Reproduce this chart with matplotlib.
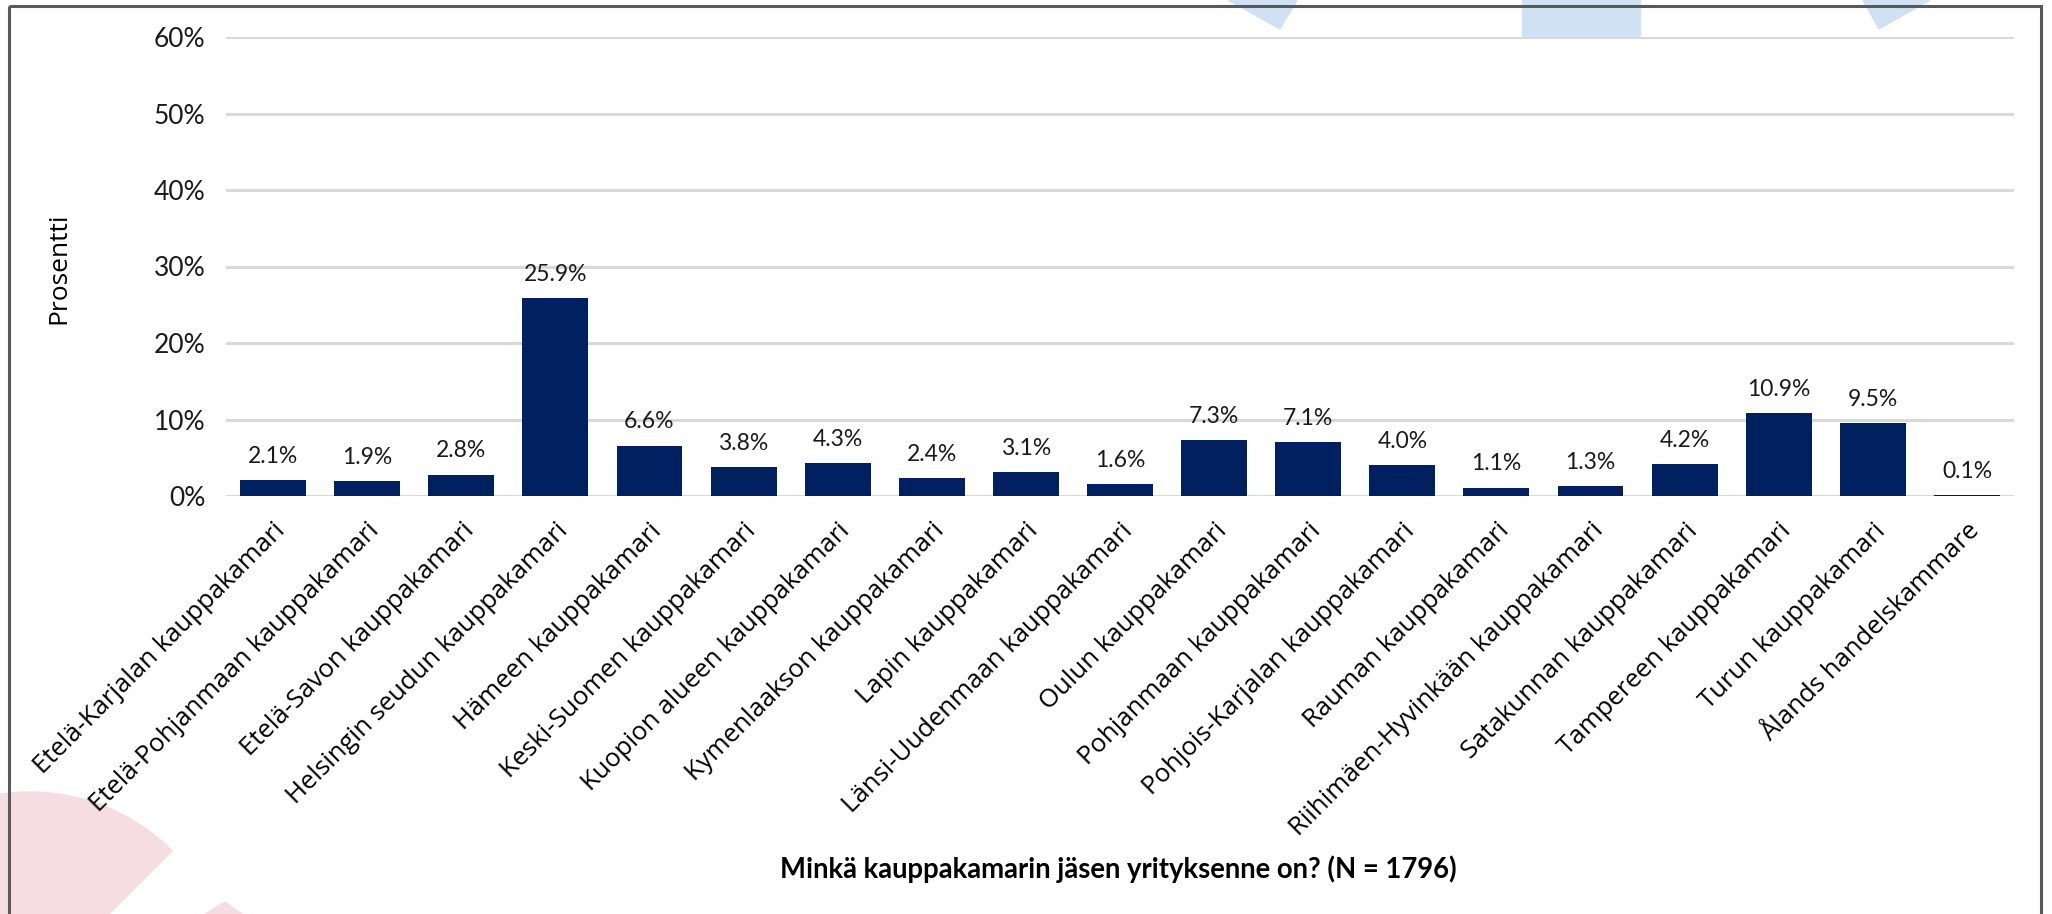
import numpy as np
import matplotlib
matplotlib.use("Agg")
import matplotlib.pyplot as plt
from matplotlib.patches import Rectangle, Polygon, Wedge
from matplotlib.ticker import PercentFormatter

# data
chambers = [
    "Etelä-Karjalan kauppakamari", "Etelä-Pohjanmaan kauppakamari",
    "Etelä-Savon kauppakamari", "Helsingin seudun kauppakamari",
    "Hämeen kauppakamari", "Keski-Suomen kauppakamari",
    "Kuopion alueen kauppakamari", "Kymenlaakson kauppakamari",
    "Lapin kauppakamari", "Länsi-Uudenmaan kauppakamari",
    "Oulun kauppakamari", "Pohjanmaan kauppakamari",
    "Pohjois-Karjalan kauppakamari", "Rauman kauppakamari",
    "Riihimäen-Hyvinkään kauppakamari", "Satakunnan kauppakamari",
    "Tampereen kauppakamari", "Turun kauppakamari", "Ålands handelskammare",
]
share = [2.1, 1.9, 2.8, 25.9, 6.6, 3.8, 4.3, 2.4, 3.1, 1.6,
         7.3, 7.1, 4.0, 1.1, 1.3, 4.2, 10.9, 9.5, 0.1]
yticks = [0, 10, 20, 30, 40, 50, 60]

W, H = 2052, 914
fig = plt.figure(figsize=(W / 100, H / 100), dpi=100)

# background decoration (logo fragments), pixel coordinates
deco = fig.add_axes([0, 0, 1, 1], zorder=-1)
deco.set_xlim(0, W)
deco.set_ylim(H, 0)
deco.axis("off")
blue = "#cfe2f3"
pink = "#f5dde2"
deco.add_patch(Rectangle((1522, 0), 118, 37, color=blue))
deco.add_patch(Polygon([(1228, 0), (1297, 0), (1280, 29)], color=blue))
deco.add_patch(Polygon([(1863, 0), (1930, 0), (1879, 29)], color=blue))
deco.add_patch(Wedge((30, 993), 201, 180, 315, color=pink))
deco.add_patch(Polygon([(205, 914), (225, 902), (242, 914)], color=pink))
# outer frame
deco.add_patch(Rectangle((9, 6), 2032, 1000, fill=False, edgecolor="#595959",
                         linewidth=2.2))

ax = fig.add_axes([226 / W, 1 - 496 / H, (2014 - 226) / W, (496 - 37) / H])
ax.patch.set_alpha(0)
x = np.arange(len(chambers))
ax.bar(x, share, width=0.7, color="#012060", zorder=3)

for xi, v in zip(x, share):
    ax.annotate(f"{v:.1f}%", (xi, v), xytext=(0, 17), textcoords="offset points",
                ha="center", va="center", fontsize=16.5, family="Lato",
                color="#1a1a1a")

ax.set_xlim(-0.5, len(chambers) - 0.5)
ax.set_ylim(0, 60)
ax.set_yticks(yticks)
ax.yaxis.set_major_formatter(PercentFormatter(decimals=0))
ax.grid(axis="y", color="#d9d9d9", linewidth=2.2, zorder=0)
ax.set_axisbelow(True)
for s in ax.spines.values():
    s.set_visible(False)
ax.tick_params(axis="y", length=0, pad=15, labelsize=19, labelcolor="#1a1a1a")
ax.tick_params(axis="x", length=0, pad=16)
for lab in ax.get_yticklabels():
    lab.set_family("Lato")
ax.set_xticks(x)
ax.set_xticklabels(chambers, rotation=45, ha="right", va="top",
                   rotation_mode="anchor", fontsize=18.5, family="Open Sans",
                   color="black")

fig.text(59 / W, 1 - 268 / H, "Prosentti", rotation=90, ha="center", va="center",
         fontsize=19, family="Open Sans", color="black")
fig.text(1118 / W, 1 - 869 / H, "Minkä kauppakamarin jäsen yrityksenne on? (N = 1796)",
         ha="center", va="center", fontsize=19.8, fontweight="bold", family="Lato")

fig.savefig("out.png", dpi=100)
